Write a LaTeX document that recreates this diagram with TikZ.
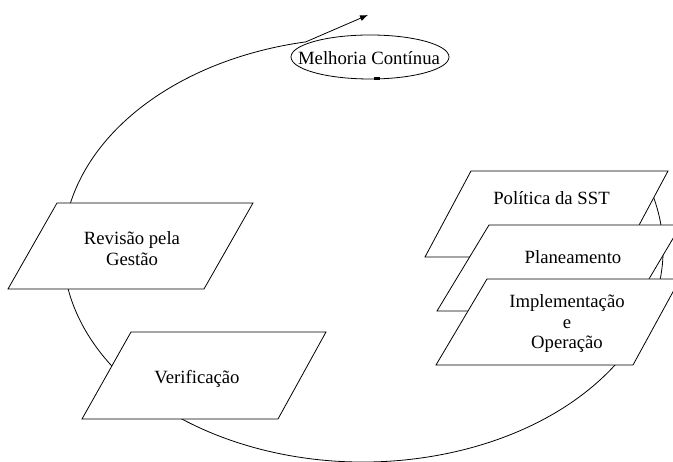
\documentclass[tikz,border=0pt]{standalone}
\usepackage{fontspec}
\setmainfont{Liberation Serif}
\usetikzlibrary{arrows.meta}
\begin{document}
\begin{tikzpicture}[x=1pt,y=1pt,
  box/.style={draw=black, fill=white, line width=0.8pt, line join=miter},
  lbl/.style={anchor=base, inner sep=0pt, font=\fontsize{18.7}{20.4}\selectfont},
  cyc/.style={draw=black, line width=0.8pt}]
\useasboundingbox (0,0) rectangle (673,462);
\clip (0,0) rectangle (673,462);
% cycle arc
\path (363,212) ++(16:300 and 212) coordinate (arcstart);
\coordinate (tip) at (368,447);
\draw[cyc] (arcstart) arc[start angle=16, end angle=-259, x radius=300, y radius=212] coordinate (arcend);
\draw[cyc,-{Latex[length=8pt,width=6pt]}] (arcend) -- (tip);
% continual improvement
\draw[cyc, fill=white] (370,405) ellipse[x radius=79, y radius=22];
\node[lbl] (melhoria) at (369,397) {Melhoria Contínua};
\draw[line width=2.2pt] (373.5,383.5) -- (379.5,383.5);
% left boxes
\draw[box] (57,259) -- (253,259) -- (204,173) -- (8,173) -- cycle;
\node[lbl] (revisao) at (132,217) {\begin{tabular}[t]{@{}c@{}}Revisão pela\\Gestão\end{tabular}};
\draw[box] (131,130) -- (326,130) -- (278,43) -- (82,43) -- cycle;
\node[lbl] (verif) at (197,78) {Verificação};
% right stack
\draw[box] (471,291) -- (668,291) -- (622,205) -- (425,205) -- cycle;
\node[lbl] (politica) at (551.5,257) {Política da SST};
\draw[box] (489,237) -- (681,237) -- (630,151) -- (437,151) -- cycle;
\node[lbl] (planeamento) at (573,198) {Planeamento};
\draw[box] (487,183) -- (680,183) -- (633,97) -- (436,97) -- cycle;
\node[lbl] (implementacao) at (567,154) {\begin{tabular}[t]{@{}c@{}}Implementação\\e\\Operação\end{tabular}};
\end{tikzpicture}
\end{document}
